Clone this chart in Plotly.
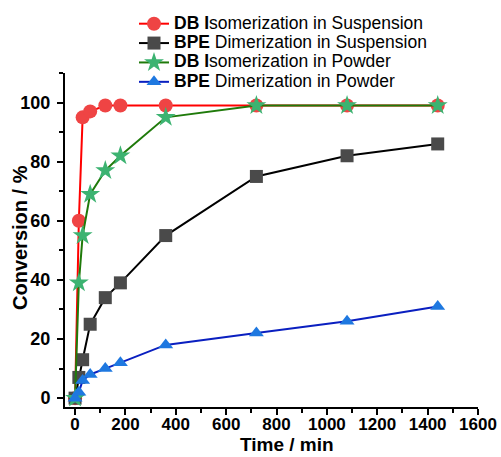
import plotly.graph_objects as go

t_db_susp = [0, 15, 30, 60, 120, 180, 360, 720, 1080, 1440]
v_db_susp = [0, 60, 95, 97, 99, 99, 99, 99, 99, 99]

t_bpe_susp = [0, 15, 30, 60, 120, 180, 360, 720, 1080, 1440]
v_bpe_susp = [0, 7, 13, 25, 34, 39, 55, 75, 82, 86]

t_db_pow = [0, 15, 30, 60, 120, 180, 360, 720, 1080, 1440]
v_db_pow = [0, 39, 55, 69, 77, 82, 95, 99, 99, 99]

t_bpe_pow = [0, 15, 30, 60, 120, 180, 360, 720, 1080, 1440]
v_bpe_pow = [0, 2, 6, 8, 10, 12, 18, 22, 26, 31]

names = [
    "<b>DB I</b>somerization in Suspension",
    "<b>BPE</b> Dimerization in Suspension",
    "<b>DB I</b>somerization in Powder",
    "<b>BPE</b> Dimerization in Powder",
]
x_title = "Time / min"
y_title = "Conversion / %"

FONT = "Arial, Liberation Sans, sans-serif"
LEG_SIZE = "17.5px"

fig = go.Figure()
series = [
    (t_db_susp, v_db_susp, names[0], "#FF0000", "#EF4444", "circle", 14),
    (t_bpe_susp, v_bpe_susp, names[1], "#000000", "#4A4A4A", "square", 13),
    (t_db_pow, v_db_pow, names[2], "#1F7A0A", "#3CB371", "star", 15),
    (t_bpe_pow, v_bpe_pow, names[3], "#0A1FC0", "#1E78E0", "triangle-up", 13),
]
for x, y, n, lc, mc, sym, sz in series:
    fig.add_trace(go.Scatter(
        x=x, y=y, name=f'<span style="font-size:{LEG_SIZE}">{n}</span>',
        mode="lines+markers",
        line=dict(color=lc, width=2),
        marker=dict(symbol=sym, size=sz, color=mc, line=dict(width=0)),
    ))

axis_common = dict(
    showline=True, linecolor="black", linewidth=2,
    ticks="outside", tickwidth=2, ticklen=6, tickcolor="black",
    showgrid=False, zeroline=False, mirror=False, automargin=False,
)

fig.update_xaxes(
    range=[-40, 1600], tick0=0, dtick=200, ticklabelstandoff=-5,
    tickfont=dict(family=FONT, size=17, color="black", weight="bold"),
    minor=dict(ticks="outside", ticklen=4, tickwidth=2, tickcolor="black", dtick=100),
    **axis_common,
)
fig.update_yaxes(
    range=[-3, 110], tick0=0, dtick=20, ticklabelstandoff=3,
    tickfont=dict(family=FONT, size=18, color="black", weight="bold"),
    minor=dict(ticks="outside", ticklen=4, tickwidth=2, tickcolor="black", dtick=10),
    **axis_common,
)

L, R, T, B, W, H = 65, 23, 73, 50, 501, 457
pw, ph = W - L - R, H - T - B

fig.add_annotation(
    text=f"<b>{x_title}</b>", xref="paper", yref="paper",
    x=(287 - L) / pw, y=(H - B - 456.5) / ph, xanchor="center", yanchor="bottom",
    showarrow=False, font=dict(family=FONT, size=19, color="black"),
)
fig.add_annotation(
    text=f"<b>{y_title}</b>", xref="paper", yref="paper", textangle=-90,
    x=(20 - L) / pw, y=(H - B - 238) / ph, xanchor="center", yanchor="middle",
    showarrow=False, font=dict(family=FONT, size=20, color="black"),
)

fig.update_layout(
    width=W, height=H,
    margin=dict(l=L, r=R, t=T, b=B, autoexpand=False),
    plot_bgcolor="white", paper_bgcolor="white",
    font=dict(family=FONT, color="black"),
    legend=dict(
        x=(134 - L) / pw, y=(H - B - 9) / ph, xanchor="left", yanchor="top",
        bgcolor="rgba(0,0,0,0)", borderwidth=0,
        font=dict(family=FONT, size=12.6, color="black"),
        tracegroupgap=0, itemwidth=30,
    ),
    showlegend=True,
)

fig.write_html("out.html")
